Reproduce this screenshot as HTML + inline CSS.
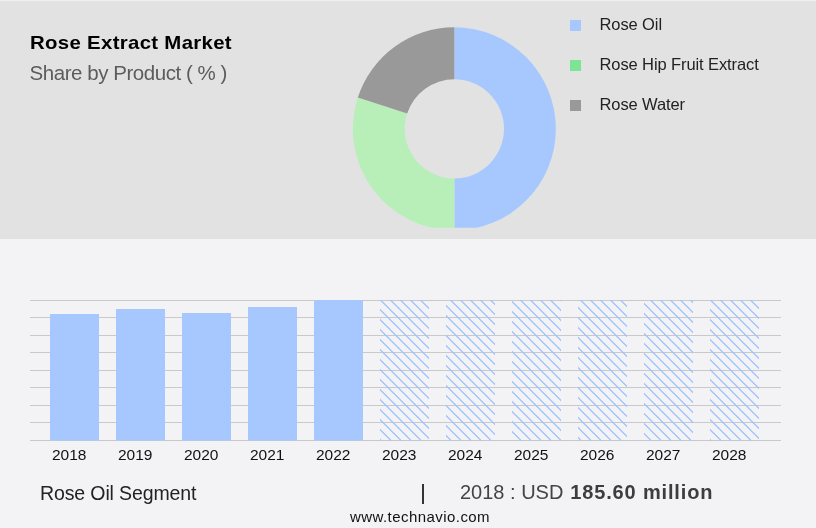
<!DOCTYPE html>
<html><head><meta charset="utf-8"><title>Rose Extract Market</title>
<style>
html,body{margin:0;padding:0}
body{width:816px;height:528px;position:relative;overflow:hidden;background:#f3f3f5;font-family:"Liberation Sans",sans-serif}
.top{position:absolute;left:0;top:0;width:816px;height:239px;background:#e2e2e2;border-top:1px solid #f0f0f0;box-sizing:border-box}
.chart{position:absolute;left:0;top:0}
.t{position:absolute;white-space:nowrap;line-height:1}
.title{left:30px;top:33.3px;font-size:19px;font-weight:bold;color:#000;letter-spacing:0.3px;transform:scaleX(1.072);transform-origin:0 0}
.sub{left:29.5px;top:62.5px;font-size:20.5px;color:#5c5c5c;letter-spacing:-0.45px}
.lg{font-size:16.5px;color:#222;left:599.5px;letter-spacing:-0.1px}
.sq{position:absolute;left:570px;width:11px;height:11px}
.yl{position:absolute;top:446.6px;width:60px;text-align:center;font-size:15.5px;color:#111;line-height:1}
.seg{left:40px;top:483.5px;font-size:19.5px;color:#222;letter-spacing:-0.12px}
.bar{position:absolute;left:422px;top:484px;width:2px;height:20px;background:#333}
.val{left:460px;top:482.2px;font-size:20px;color:#444}
.val b{color:#3d3d3d;letter-spacing:0.85px;margin-left:1.3px}
.www{left:350px;top:508.5px;font-size:15px;color:#111;letter-spacing:0.44px}
</style></head><body>
<div class="top"></div>
<svg class="chart" width="816" height="528" viewBox="0 0 816 528">
<defs><pattern id="h" width="10" height="10" patternUnits="userSpaceOnUse"><path d="M-1,-1.5 L11,10.5 M-11,-1.5 L1,10.5 M9,-1.5 L21,10.5" stroke="#9dc2ff" stroke-width="1.25" fill="none"/></pattern></defs>
<line x1="30" x2="781" y1="300.5" y2="300.5" stroke="#c9c9c9" stroke-width="1"/>
<line x1="30" x2="781" y1="317.5" y2="317.5" stroke="#c9c9c9" stroke-width="1"/>
<line x1="30" x2="781" y1="335.5" y2="335.5" stroke="#c9c9c9" stroke-width="1"/>
<line x1="30" x2="781" y1="352.5" y2="352.5" stroke="#c9c9c9" stroke-width="1"/>
<line x1="30" x2="781" y1="370.5" y2="370.5" stroke="#c9c9c9" stroke-width="1"/>
<line x1="30" x2="781" y1="387.5" y2="387.5" stroke="#c9c9c9" stroke-width="1"/>
<line x1="30" x2="781" y1="405.5" y2="405.5" stroke="#c9c9c9" stroke-width="1"/>
<line x1="30" x2="781" y1="422.5" y2="422.5" stroke="#c9c9c9" stroke-width="1"/>
<line x1="30" x2="781" y1="440.5" y2="440.5" stroke="#c9c9c9" stroke-width="1"/>
<rect x="50" y="314" width="49" height="126.5" fill="#a6c8ff"/>
<rect x="116" y="309" width="49" height="131.5" fill="#a6c8ff"/>
<rect x="182" y="313" width="49" height="127.5" fill="#a6c8ff"/>
<rect x="248" y="307" width="49" height="133.5" fill="#a6c8ff"/>
<rect x="314" y="300" width="49" height="140.5" fill="#a6c8ff"/>
<rect x="380" y="300" width="49" height="140.5" fill="url(#h)"/>
<rect x="446" y="300" width="49" height="140.5" fill="url(#h)"/>
<rect x="512" y="300" width="49" height="140.5" fill="url(#h)"/>
<rect x="578" y="300" width="49" height="140.5" fill="url(#h)"/>
<rect x="644" y="300" width="49" height="140.5" fill="url(#h)"/>
<rect x="710" y="300" width="49" height="140.5" fill="url(#h)"/>
<clipPath id="c"><rect x="340" y="20" width="230" height="207.7"/></clipPath><g clip-path="url(#c)">
<path d="M454.35,27.35 A101.5,101.5 0 0 1 454.35,230.35 L454.35,178.50 A49.65,49.65 0 0 0 454.35,79.20 Z" fill="#a6c8ff"/>
<path d="M454.35,230.35 A101.5,101.5 0 0 1 357.82,97.48 L407.13,113.51 A49.65,49.65 0 0 0 454.35,178.50 Z" fill="#b8efb9"/>
<path d="M357.82,97.48 A101.5,101.5 0 0 1 454.35,27.35 L454.35,79.20 A49.65,49.65 0 0 0 407.13,113.51 Z" fill="#999999"/>
</g>
</svg>
<div class="t title">Rose Extract Market</div>
<div class="t sub">Share by Product ( % )</div>
<div class="sq" style="top:20px;background:#a6c8ff"></div><div class="t lg" style="top:16px">Rose Oil</div>
<div class="sq" style="top:60px;background:#7be495"></div><div class="t lg" style="top:56px">Rose Hip Fruit Extract</div>
<div class="sq" style="top:100px;background:#999"></div><div class="t lg" style="top:96px">Rose Water</div>
<div class="yl" style="left:39.2px">2018</div><div class="yl" style="left:105.2px">2019</div><div class="yl" style="left:171.2px">2020</div><div class="yl" style="left:237.2px">2021</div><div class="yl" style="left:303.2px">2022</div><div class="yl" style="left:369.2px">2023</div><div class="yl" style="left:435.2px">2024</div><div class="yl" style="left:501.2px">2025</div><div class="yl" style="left:567.2px">2026</div><div class="yl" style="left:633.2px">2027</div><div class="yl" style="left:699.2px">2028</div>
<div class="t seg">Rose Oil Segment</div>
<div class="bar"></div>
<div class="t val">2018 : USD <b>185.60 million</b></div>
<div class="t www">www.technavio.com</div>
</body></html>
